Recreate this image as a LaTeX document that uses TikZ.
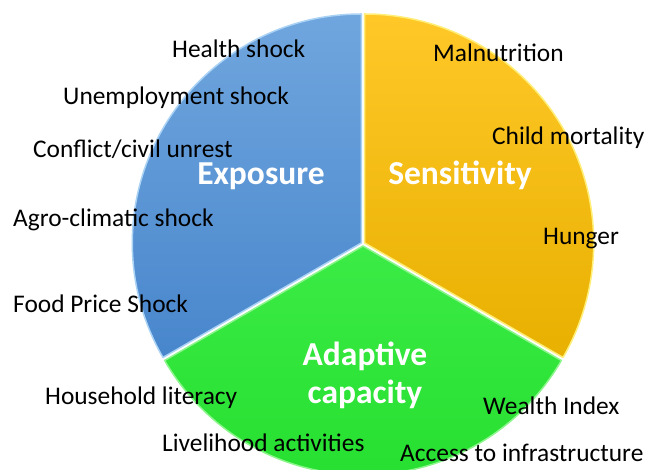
\documentclass[tikz,border=0pt]{standalone}
\usepackage{fontspec}
\setmainfont{Carlito}
\definecolor{bluetop}{RGB}{112,166,222}
\definecolor{bluebot}{RGB}{72,134,204}
\definecolor{blueedge}{RGB}{170,210,245}
\definecolor{yellowtop}{RGB}{255,200,40}
\definecolor{yellowbot}{RGB}{232,176,0}
\definecolor{yellowedge}{RGB}{255,238,120}
\definecolor{greentop}{RGB}{60,235,70}
\definecolor{greenbot}{RGB}{35,222,45}
\definecolor{greenedge}{RGB}{140,245,140}
\begin{document}
\begin{tikzpicture}[x=1pt,y=1pt,
    sector/.style={line width=1.5pt,line join=round},
    item/.style={anchor=base west,inner sep=0pt,font=\fontsize{25.4}{25}\selectfont},
    title/.style={anchor=base,inner sep=0pt,text=white,align=center,
        font=\fontsize{33.5}{38}\selectfont\bfseries}]
    \useasboundingbox (0,0) rectangle (646,470);

    % pie centres, pulled apart a little
    \coordinate (cb) at (361.3,227);
    \coordinate (cy) at (364.7,227);
    \coordinate (cg) at (363,224);

    \shadedraw[sector, top color=bluetop, bottom color=bluebot, draw=blueedge]
        (cb) -- ++(90:229) arc[start angle=90, end angle=210, radius=229] -- cycle;
    \shadedraw[sector, top color=yellowtop, bottom color=yellowbot, draw=yellowedge]
        (cy) -- ++(90:229) arc[start angle=90, end angle=-30, radius=229] -- cycle;
    \shadedraw[sector, top color=greentop, bottom color=greenbot, draw=greenedge]
        (cg) -- ++(210:229) arc[start angle=210, end angle=330, radius=229] -- cycle;

    % sector titles
    \node[title] (exposure) at (261,285) {Exposure};
    \node[title] (sensitivity) at (460,285) {Sensitivity};
    \node[title,anchor=north] (adaptive) at (365,128) {Adaptive\\capacity};

    % exposure
    \node[item] (health) at (172,412) {Health shock};
    \node[item] (unemployment) at (63,365) {Unemployment shock};
    \node[item] (conflict) at (33,312) {Conflict/civil unrest};
    \node[item] (agro) at (13,243) {Agro-climatic shock};
    \node[item] (foodprice) at (13,157) {Food Price Shock};

    % sensitivity
    \node[item] (malnutrition) at (433,408) {Malnutrition};
    \node[item] (childmort) at (492,325) {Child mortality};
    \node[item] (hunger) at (543,225) {Hunger};

    % adaptive capacity
    \node[item] (literacy) at (45,65) {Household literacy};
    \node[item] (livelihood) at (162,18) {Livelihood activities};
    \node[item] (wealth) at (483,55) {Wealth Index};
    \node[item] (infra) at (400,8) {Access to infrastructure};
\end{tikzpicture}
\end{document}
